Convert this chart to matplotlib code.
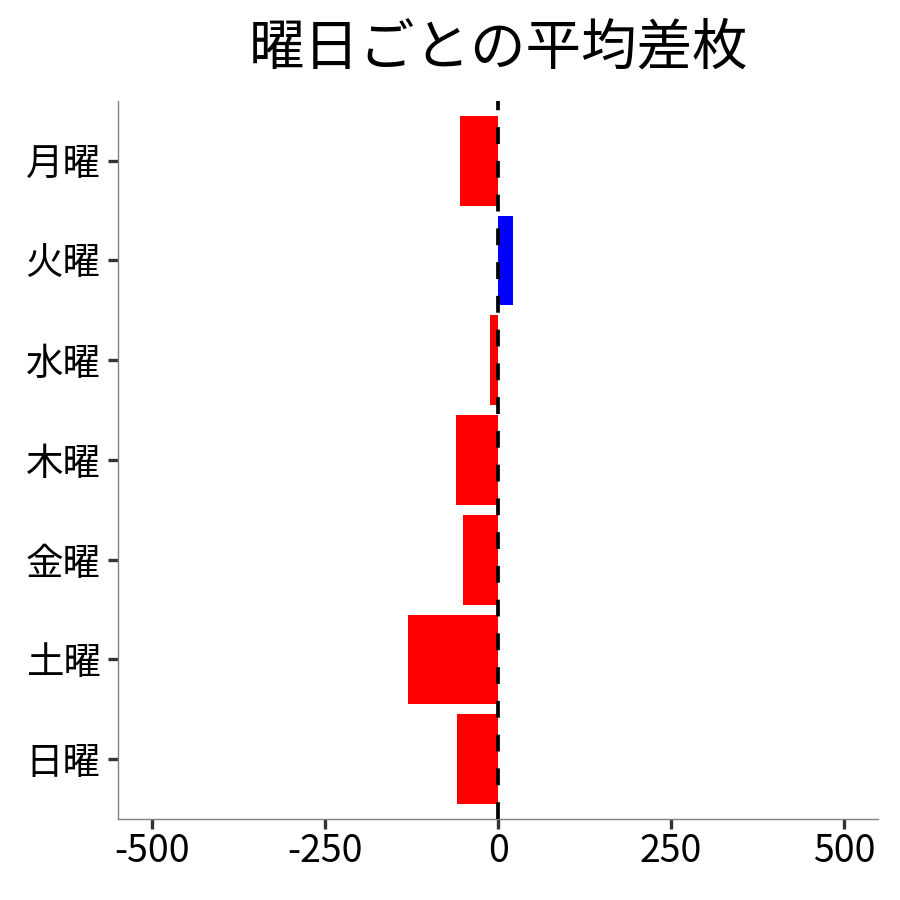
import numpy as np
import matplotlib
matplotlib.use('Agg')
import matplotlib.pyplot as plt

plt.rcParams['font.family'] = ['Noto Sans CJK JP', 'DejaVu Sans']

# data
days = ['月曜', '火曜', '水曜', '木曜', '金曜', '土曜', '日曜']
diff = [-55, 21, -12, -61, -51, -131, -59]
xticks = [-500, -250, 0, 250, 500]

colors = ['#0000FF' if v > 0 else '#FF0000' for v in diff]
ypos = np.arange(len(days))[::-1]

fig = plt.figure(figsize=(9, 9), dpi=100)
ax = fig.add_axes([0.131, 0.09, 0.845, 0.798])

ax.barh(ypos, diff, height=0.9, color=colors, zorder=2)
ax.plot([0, 0], [-0.6, 6.6], color='black', lw=2.7,
        linestyle=(0, (4.5, 4.5)), zorder=3, solid_capstyle='butt')

ax.set_xlim(-550, 550)
ax.set_ylim(-0.6, 6.6)
ax.set_xticks(xticks)
ax.set_xticklabels([str(t) for t in xticks])
ax.set_yticks(ypos)
ax.set_yticklabels(days)

for s in ['top', 'right']:
    ax.spines[s].set_visible(False)
for s in ['left', 'bottom']:
    ax.spines[s].set_color('#808080')
    ax.spines[s].set_linewidth(1.0)

ax.tick_params(axis='both', direction='out', length=7.5, width=2.4,
               color='#333333', labelsize=27, labelcolor='black', pad=5)
ax.tick_params(axis='x', pad=2)

ax.set_title('曜日ごとの平均差枚', fontsize=40, pad=26)

fig.savefig('out.png', dpi=100)
plt.close()
